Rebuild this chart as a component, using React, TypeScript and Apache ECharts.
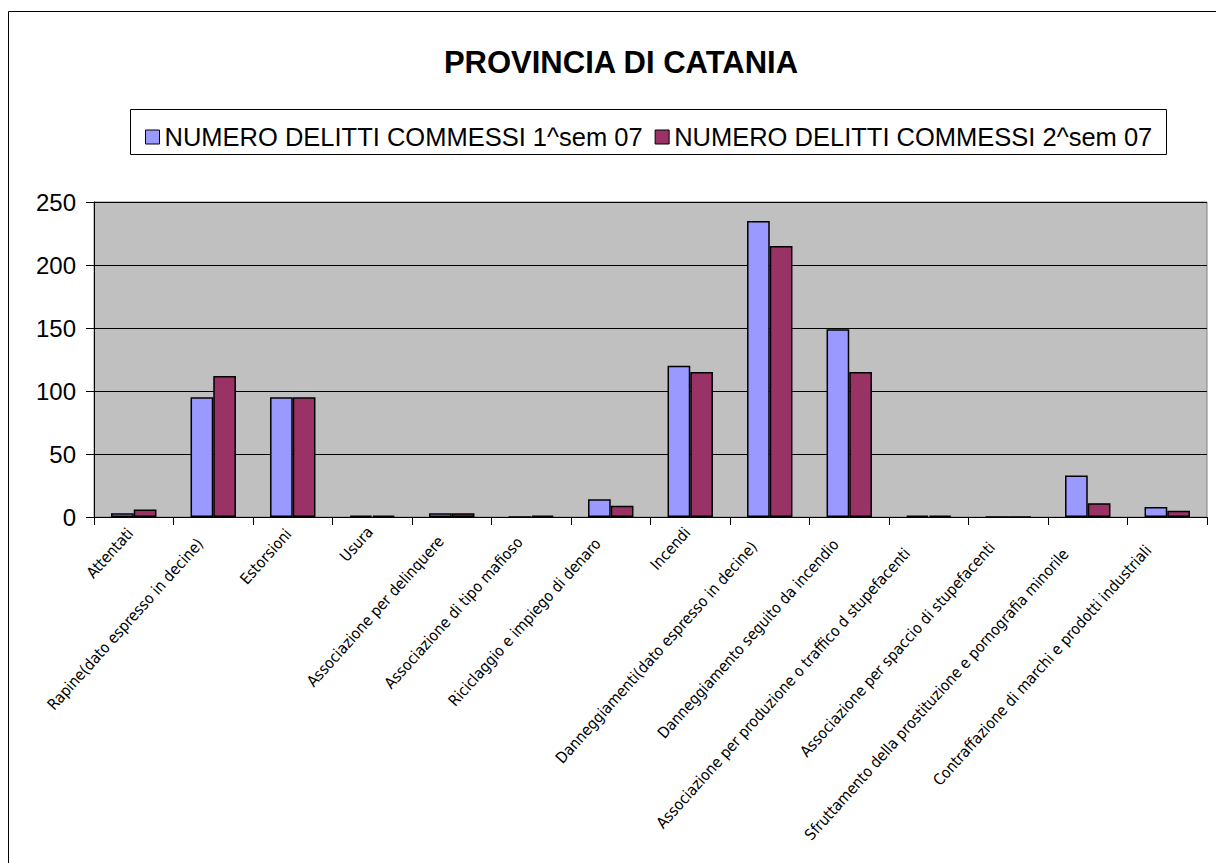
import React, { useEffect, useRef } from "react";
import * as echarts from "echarts";

const categories = [
  "Attentati",
  "Rapine(dato espresso in decine)",
  "Estorsioni",
  "Usura",
  "Associazione per delinquere",
  "Associazione di tipo mafioso",
  "Riciclaggio e impiego di denaro",
  "Incendi",
  "Danneggiamenti(dato espresso in decine)",
  "Danneggiamento seguito da incendio",
  "Associazione per produzione o traffico d stupefacenti",
  "Associazione per spaccio di stupefacenti",
  "Sfruttamento della prostituzione e pornografia minorile",
  "Contraffazione di marchi e prodotti industriali",
];

const sem1Name = "NUMERO DELITTI COMMESSI 1^sem 07";
const sem2Name = "NUMERO DELITTI COMMESSI 2^sem 07";

const sem1Values = [3, 95, 95, 1, 3, 0, 14, 120, 235, 149, 1, 0, 33, 8];
const sem2Values = [6, 112, 95, 1, 3, 1, 9, 115, 215, 115, 1, 0, 11, 5];

const yTicks = { min: 0, max: 250, interval: 50 };

export default function App() {
  const ref = useRef<HTMLDivElement>(null);

  useEffect(() => {
    if (!ref.current) return;
    const chart = echarts.init(ref.current, undefined, { renderer: "svg" });
    const sans = "'Liberation Sans', Arial, sans-serif";
    const narrow = "'DejaVu Sans Condensed', 'Liberation Sans Narrow', sans-serif";
    // rich styles: longer labels sit further down-left along their own direction
    const rich: Record<string, any> = {};
    categories.forEach((c, i) => {
      rich["c" + i] = {
        fontFamily: narrow,
        fontSize: 15.5,
        color: "#000",
        padding: [0, Math.round(c.length * 0.6), 0, 0],
      };
    });
    chart.setOption({
      animation: false,
      backgroundColor: "#ffffff",
      title: {
        text: "PROVINCIA DI CATANIA",
        left: 616,
        textAlign: "center",
        top: 42,
        textStyle: { fontFamily: sans, fontSize: 31, fontWeight: "bold", color: "#000" },
      },
      graphic: [
        {
          type: "rect",
          shape: { x: 8.5, y: 11.5, width: 1300, height: 1000 },
          style: { fill: "none", stroke: "#000", lineWidth: 1 },
          silent: true,
        },
        {
          type: "rect",
          shape: { x: 130.5, y: 109.5, width: 1036, height: 45 },
          style: { fill: "none", stroke: "#000", lineWidth: 1 },
          silent: true,
        },
      ],
      legend: {
        left: 140,
        top: 117,
        itemWidth: 14,
        itemHeight: 14,
        itemGap: 12,
        icon: "rect",
        itemStyle: { borderColor: "#000", borderWidth: 1 },
        textStyle: { fontFamily: sans, fontSize: 25.5, color: "#000", lineHeight: 30 },
        data: [sem1Name, sem2Name],
      },
      grid: {
        left: 94,
        right: 9,
        top: 202,
        bottom: 346,
        show: true,
        backgroundColor: "#C0C0C0",
        borderColor: "#808080",
        borderWidth: 1,
        containLabel: false,
        outerBoundsMode: "none",
      },
      xAxis: {
        type: "category",
        data: categories,
        axisLine: { show: true, lineStyle: { color: "#000", width: 1 } },
        axisTick: { show: true, length: 8, lineStyle: { color: "#000" } },
        axisLabel: {
          interval: 0,
          rotate: 48,
          margin: 10,
          fontFamily: narrow,
          fontSize: 15.5,
          color: "#000",
          formatter: (v: string) => "{c" + categories.indexOf(v) + "|" + v + "}",
          rich,
        },
        splitLine: { show: false },
      },
      yAxis: {
        type: "value",
        min: yTicks.min,
        max: yTicks.max,
        interval: yTicks.interval,
        axisLine: { show: true, lineStyle: { color: "#000", width: 1 } },
        axisTick: { show: true, length: 8, lineStyle: { color: "#000" } },
        axisLabel: { fontFamily: sans, fontSize: 24, color: "#000", margin: 18 },
        splitLine: { show: true, lineStyle: { color: "#000", width: 1 } },
      },
      series: [
        {
          name: sem1Name,
          type: "bar",
          data: sem1Values,
          barGap: "0%",
          barCategoryGap: "42.86%",
          itemStyle: { color: "#9999FF", borderColor: "#000", borderWidth: 1.5 },
        },
        {
          name: sem2Name,
          type: "bar",
          data: sem2Values,
          barGap: "0%",
          barCategoryGap: "42.86%",
          itemStyle: { color: "#993366", borderColor: "#000", borderWidth: 1.5 },
        },
      ],
    });
    return () => chart.dispose();
  }, []);

  return (
    <div
      ref={ref}
      style={{ position: "fixed", left: 0, top: 0, width: 1216, height: 863, background: "#fff" }}
    />
  );
}
